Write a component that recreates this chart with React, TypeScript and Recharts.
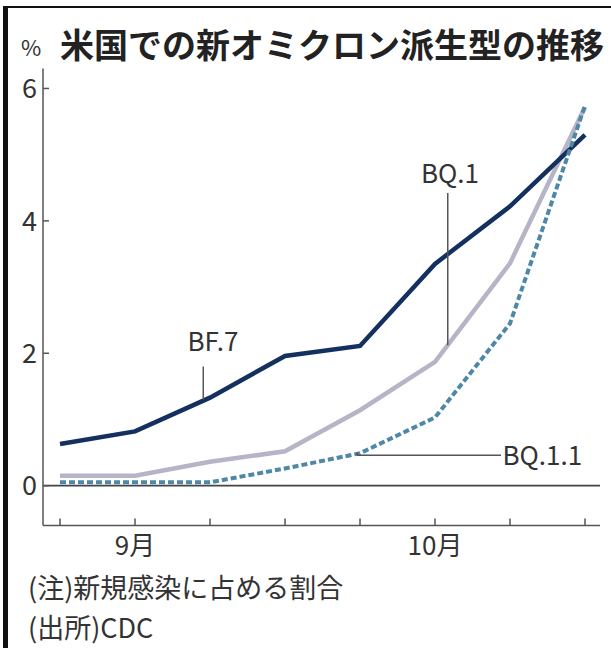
import React from 'react';
import { LineChart, Line, XAxis, YAxis, ReferenceLine, ReferenceDot } from 'recharts';

const weekIndex = [0, 1, 2, 3, 4, 5, 6, 7];
const monthLabels = ['', '9月', '', '', '', '10月', '', ''];
const bf7 = [0.63, 0.82, 1.33, 1.96, 2.11, 3.35, 4.22, 5.3];
const bq1 = [0.15, 0.15, 0.36, 0.52, 1.14, 1.87, 3.36, 5.72];
const bq11 = [0.05, 0.05, 0.05, 0.26, 0.49, 1.03, 2.45, 5.74];
const yTicks = [0, 2, 4, 6];

const data = weekIndex.map((i) => ({ i, bf7: bf7[i], bq1: bq1[i], bq11: bq11[i] }));

const FONT = '"Noto Sans CJK JP", "Noto Sans", sans-serif';
const TICK_MARGIN = 5;

const XTick = (props: any) => {
  const { x, y, payload } = props;
  const axisY = y - TICK_MARGIN;
  return (
    <g>
      <line x1={x} y1={axisY - 7} x2={x} y2={axisY} stroke="#555" strokeWidth={1.5} />
      <text x={x} y={axisY + 30} textAnchor="middle" fontSize={26} fill="#333" fontFamily={FONT}>
        {monthLabels[payload.value]}
      </text>
    </g>
  );
};

const YTick = (props: any) => {
  const { x, y, payload } = props;
  const axisX = x + TICK_MARGIN;
  return (
    <g>
      <line x1={axisX} y1={y} x2={axisX + 6} y2={y} stroke="#555" strokeWidth={1.5} />
      <text x={x - 1} y={y} dy="0.36em" textAnchor="end" fontSize={27} fill="#333" fontFamily={FONT}>
        {payload.value}
      </text>
    </g>
  );
};

const AnnText = (props: any) => {
  const { cx, cy, text, anchor } = props;
  return (
    <text x={cx} y={cy} dy="0.36em" textAnchor={anchor} fontSize={26} fill="#333" fontFamily={FONT}>
      {text}
    </text>
  );
};

export default function App() {
  return (
    <div style={{ position: 'absolute', left: 0, top: 0, width: 611, height: 648, background: '#fff', overflow: 'hidden' }}>
      <div style={{ position: 'absolute', left: 3, top: 6, width: 5, height: 642, background: '#111' }} />
      <div style={{ position: 'absolute', left: 3, top: 6, width: 608, height: 2, background: '#111' }} />
      <div style={{ position: 'absolute', left: 21, top: 33, fontFamily: FONT, fontSize: 22, color: '#333', lineHeight: '26px' }}>%</div>
      <div style={{ position: 'absolute', left: 60, top: 22, fontFamily: FONT, fontSize: 34, fontWeight: 700, color: '#222', lineHeight: '44px', whiteSpace: 'nowrap' }}>
        米国での新オミクロン派生型の推移
      </div>
      <div style={{ position: 'absolute', left: 0, top: 0 }}>
        <LineChart width={611} height={648} data={data} margin={{ top: 68.6, right: 11, left: 0, bottom: 82.6 }}>
          <XAxis
            dataKey="i"
            type="number"
            domain={[-0.227, 7.2]}
            ticks={weekIndex}
            interval={0}
            height={40}
            axisLine={{ stroke: '#555', strokeWidth: 1.5 }}
            tickLine={false}
            tickSize={0}
            tickMargin={TICK_MARGIN}
            tick={<XTick />}
          />
          <YAxis
            type="number"
            domain={[-0.6, 6.3]}
            ticks={yTicks}
            width={43}
            axisLine={{ stroke: '#555', strokeWidth: 1.5 }}
            tickLine={false}
            tickSize={0}
            tickMargin={TICK_MARGIN}
            tick={<YTick />}
            allowDataOverflow
          />
          <ReferenceLine y={0} stroke="#444" strokeWidth={1.8} />
          <Line dataKey="bq1" stroke="#b6b5c7" strokeWidth={4.5} dot={false} isAnimationActive={false} />
          <Line dataKey="bf7" stroke="#13305e" strokeWidth={4.5} dot={false} isAnimationActive={false} />
          <Line dataKey="bq11" stroke="#4f88a6" strokeWidth={4} strokeDasharray="6 3" dot={false} isAnimationActive={false} />
          <ReferenceLine segment={[{ x: 1.91, y: 1.8 }, { x: 1.91, y: 1.3 }]} stroke="#555" strokeWidth={1.5} />
          <ReferenceLine segment={[{ x: 5.17, y: 4.42 }, { x: 5.17, y: 2.12 }]} stroke="#555" strokeWidth={1.5} />
          <ReferenceLine segment={[{ x: 3.96, y: 0.5 }, { x: 3.96, y: 0.46 }]} stroke="#555" strokeWidth={1.5} />
          <ReferenceLine segment={[{ x: 3.96, y: 0.46 }, { x: 5.88, y: 0.46 }]} stroke="#555" strokeWidth={1.5} />
          <ReferenceDot x={2.04} y={2.17} r={0} shape={(p: any) => <AnnText {...p} text="BF.7" anchor="middle" />} />
          <ReferenceDot x={5.2} y={4.72} r={0} shape={(p: any) => <AnnText {...p} text="BQ.1" anchor="middle" />} />
          <ReferenceDot x={5.9} y={0.45} r={0} shape={(p: any) => <AnnText {...p} text="BQ.1.1" anchor="start" />} />
        </LineChart>
      </div>
      <div style={{ position: 'absolute', left: 28, top: 571, fontFamily: FONT, fontSize: 27, color: '#333', lineHeight: '32px', whiteSpace: 'nowrap' }}>
        <div>(注)新規感染に占める割合</div>
        <div style={{ marginTop: 8 }}>(出所)CDC</div>
      </div>
    </div>
  );
}
